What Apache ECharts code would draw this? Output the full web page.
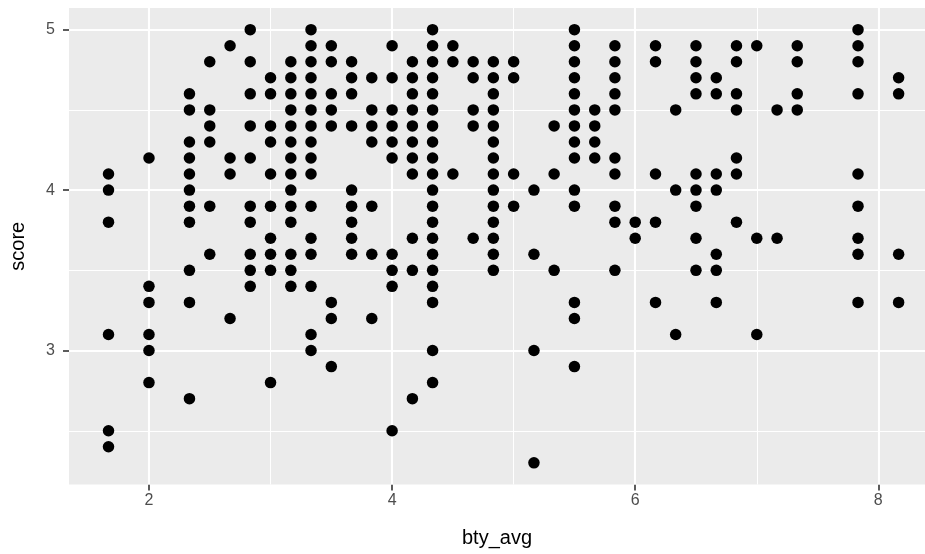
<!DOCTYPE html>
<html>
<head>
<meta charset="utf-8">
<script src="https://cdn.jsdelivr.net/npm/echarts@6/dist/echarts.min.js"></script>
<style>
  html, body { margin: 0; padding: 0; background: #ffffff; overflow: hidden; }
  #chart { width: 925px; height: 554px; }
</style>
</head>
<body>
<div id="chart"></div>
<script>
// Beauty rating (average of six raters) for each column of points
const btyAvg = [1.667, 2.0, 2.333, 2.5, 2.667, 2.833, 3.0, 3.167, 3.333, 3.5, 3.667, 3.833,
  4.0, 4.167, 4.333, 4.5, 4.667, 4.833, 5.0, 5.167, 5.333, 5.5, 5.667, 5.833, 6.0, 6.167,
  6.333, 6.5, 6.667, 6.833, 7.0, 7.167, 7.333, 7.833, 8.167];

// Evaluation scores observed at each beauty rating (same order as btyAvg)
const scoresByBty = [
  [4.1, 4.0, 3.8, 3.1, 2.5, 2.4],
  [4.2, 3.4, 3.3, 3.1, 3.0, 2.8],
  [4.6, 4.5, 4.3, 4.2, 4.1, 4.0, 3.9, 3.8, 3.5, 3.3, 2.7],
  [4.8, 4.5, 4.4, 4.3, 3.9, 3.6],
  [4.9, 4.2, 4.1, 3.2],
  [5.0, 4.8, 4.6, 4.4, 4.2, 3.9, 3.8, 3.6, 3.5, 3.4],
  [4.7, 4.6, 4.4, 4.3, 4.1, 3.9, 3.7, 3.6, 3.5, 2.8],
  [4.8, 4.7, 4.6, 4.5, 4.4, 4.3, 4.2, 4.1, 4.0, 3.9, 3.8, 3.6, 3.5, 3.4],
  [5.0, 4.9, 4.8, 4.7, 4.6, 4.5, 4.4, 4.3, 4.2, 4.1, 3.9, 3.7, 3.6, 3.4, 3.1, 3.0],
  [4.9, 4.8, 4.6, 4.5, 4.4, 3.3, 3.2, 2.9],
  [4.8, 4.7, 4.6, 4.4, 4.0, 3.9, 3.8, 3.7, 3.6],
  [4.7, 4.5, 4.4, 4.3, 3.9, 3.6, 3.2],
  [4.9, 4.7, 4.5, 4.4, 4.3, 4.2, 3.6, 3.5, 3.4, 2.5],
  [4.8, 4.7, 4.6, 4.5, 4.4, 4.3, 4.2, 4.1, 3.7, 3.5, 2.7],
  [5.0, 4.9, 4.8, 4.7, 4.6, 4.5, 4.4, 4.3, 4.2, 4.1, 4.0, 3.9, 3.8, 3.7, 3.6, 3.5, 3.4, 3.3, 3.0, 2.8],
  [4.9, 4.8, 4.1],
  [4.8, 4.7, 4.5, 4.4, 3.7],
  [4.8, 4.7, 4.6, 4.5, 4.4, 4.3, 4.2, 4.1, 4.0, 3.9, 3.8, 3.7, 3.6, 3.5],
  [4.8, 4.7, 4.1, 3.9],
  [4.0, 3.6, 3.0, 2.3],
  [4.4, 4.1, 3.5],
  [5.0, 4.9, 4.8, 4.7, 4.6, 4.5, 4.4, 4.3, 4.2, 4.0, 3.9, 3.3, 3.2, 2.9],
  [4.5, 4.4, 4.3, 4.2],
  [4.9, 4.8, 4.7, 4.6, 4.5, 4.2, 4.1, 3.9, 3.8, 3.5],
  [3.8, 3.7],
  [4.9, 4.8, 4.1, 3.8, 3.3],
  [4.5, 4.0, 3.1],
  [4.9, 4.8, 4.7, 4.6, 4.1, 4.0, 3.9, 3.7, 3.5],
  [4.7, 4.6, 4.1, 4.0, 3.6, 3.5, 3.3],
  [4.9, 4.8, 4.6, 4.5, 4.2, 4.1, 3.8],
  [4.9, 3.7, 3.1],
  [4.5, 3.7],
  [4.9, 4.8, 4.6, 4.5],
  [5.0, 4.9, 4.8, 4.6, 4.1, 3.9, 3.7, 3.6, 3.3],
  [4.7, 4.6, 3.6, 3.3]
];

// Axis breaks
const xMajor = [2, 4, 6, 8];
const xMinor = [3, 5, 7];
const yMajor = [3, 4, 5];
const yMinor = [2.5, 3.5, 4.5];

const points = [];
btyAvg.forEach((b, i) => {
  scoresByBty[i].forEach(s => points.push([b, s]));
});

const majorStyle = { color: '#FFFFFF', width: 2.1, type: 'solid' };
const minorStyle = { color: '#FFFFFF', width: 1.05, type: 'solid' };
const gridLines = []
  .concat(xMinor.map(v => ({ xAxis: v, lineStyle: minorStyle })))
  .concat(yMinor.map(v => ({ yAxis: v, lineStyle: minorStyle })))
  .concat(xMajor.map(v => ({ xAxis: v, lineStyle: majorStyle })))
  .concat(yMajor.map(v => ({ yAxis: v, lineStyle: majorStyle })));

const fontFamily = 'Liberation Sans, Arial, sans-serif';
const tickText = { color: '#4D4D4D', fontSize: 16, fontFamily };
const titleText = { color: '#000000', fontSize: 20, fontFamily };
const tickLine = { color: '#333333', width: 1.6 };

const chart = echarts.init(document.getElementById('chart'), null, { renderer: 'canvas' });
chart.setOption({
  animation: false,
  backgroundColor: '#FFFFFF',
  grid: {
    left: 69, right: 0, top: 8, bottom: 69.5,
    show: true, backgroundColor: '#EBEBEB', borderWidth: 0,
    containLabel: false
  },
  xAxis: {
    type: 'value',
    min: 1.342, max: 8.384,
    name: 'bty_avg', nameLocation: 'middle', nameGap: 44,
    nameTextStyle: titleText,
    axisLine: { show: false },
    axisTick: { show: true, length: 6, lineStyle: tickLine, customValues: xMajor },
    axisLabel: Object.assign({ margin: 8, customValues: xMajor }, tickText),
    splitLine: { show: false }
  },
  yAxis: {
    type: 'value',
    min: 2.165, max: 5.135,
    name: 'score', nameLocation: 'middle', nameGap: 41, nameRotate: 90,
    nameTextStyle: titleText,
    axisLine: { show: false },
    axisTick: { show: true, length: 6, lineStyle: tickLine, customValues: yMajor },
    axisLabel: Object.assign({ margin: 14, customValues: yMajor }, tickText),
    splitLine: { show: false }
  },
  series: [
    {
      name: 'grid',
      type: 'scatter',
      data: [],
      z: 1,
      silent: true,
      markLine: {
        silent: true,
        z: 1,
        symbol: ['none', 'none'],
        label: { show: false },
        animation: false,
        data: gridLines
      }
    },
    {
      name: 'score',
      type: 'scatter',
      z: 3,
      symbol: 'circle',
      symbolSize: 11.5,
      itemStyle: { color: '#000000', opacity: 1 },
      data: points
    }
  ]
});
</script>
</body>
</html>
